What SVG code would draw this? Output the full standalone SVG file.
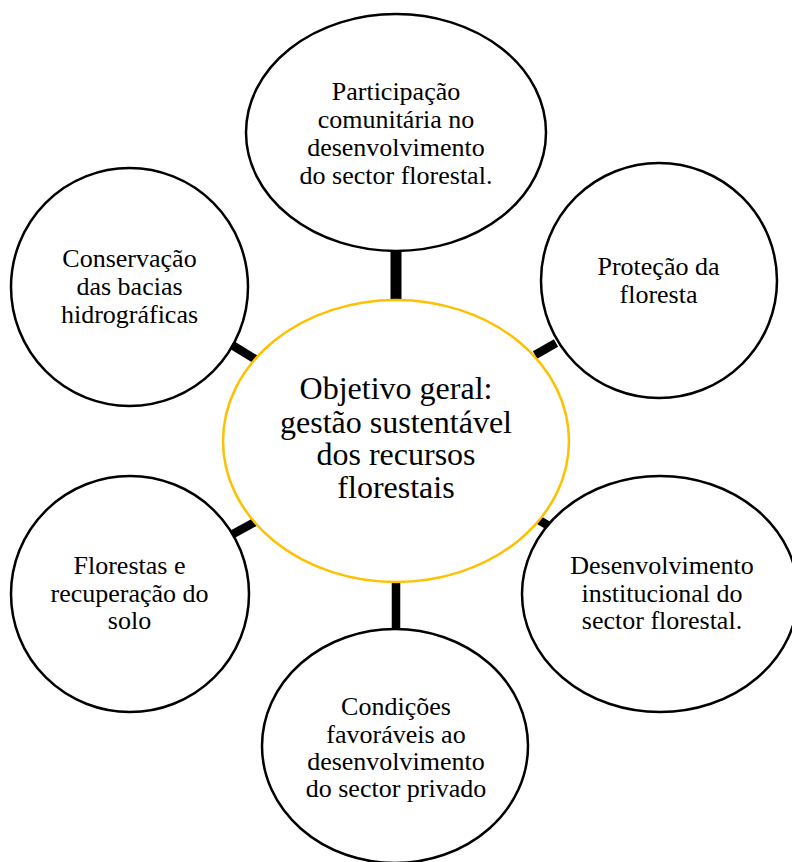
<svg xmlns="http://www.w3.org/2000/svg" width="792" height="862" viewBox="0 0 792 862">
<style>
.n{fill:#fff;stroke:#000;stroke-width:2.5}
.c{fill:#fff;stroke:#FFC000;stroke-width:2.5}
.t{font-family:"Liberation Serif","Times New Roman",serif;font-size:26px;fill:#000;text-anchor:middle}
.tc{font-family:"Liberation Serif","Times New Roman",serif;font-size:32px;fill:#000;text-anchor:middle}
.l{stroke:#000;stroke-width:8.5;fill:none}
</style>
<rect width="792" height="862" fill="#fff"/>
<g id="connectors">
<line class="l" x1="396" y1="250" x2="396" y2="301" style="stroke-width:11"/>
<line class="l" x1="396" y1="581" x2="396" y2="630"/>
<line class="l" x1="232" y1="345" x2="255" y2="359"/>
<line class="l" x1="556" y1="343" x2="535" y2="355"/>
<line class="l" x1="233" y1="534" x2="255" y2="522"/>
<line class="l" x1="537" y1="519" x2="549" y2="526"/>
</g>
<g id="n-top">
<ellipse class="n" cx="396" cy="132.5" rx="150" ry="118.5"/>
<text class="t"><tspan x="396" y="100">Participação</tspan><tspan x="396" y="128">comunitária no</tspan><tspan x="396" y="156">desenvolvimento</tspan><tspan x="396" y="184">do sector florestal.</tspan></text>
</g>
<g id="n-conservacao">
<ellipse class="n" cx="129.5" cy="287" rx="118.5" ry="119"/>
<text class="t"><tspan x="129.5" y="267">Conservação</tspan><tspan x="129.5" y="295">das bacias</tspan><tspan x="129.5" y="323">hidrográficas</tspan></text>
</g>
<g id="n-protecao">
<ellipse class="n" cx="659" cy="280.5" rx="118" ry="117.5"/>
<text class="t"><tspan x="658.5" y="275">Proteção da</tspan><tspan x="658.5" y="303">floresta</tspan></text>
</g>
<g id="n-florestas">
<ellipse class="n" cx="130" cy="594" rx="119" ry="118"/>
<text class="t"><tspan x="129.5" y="574">Florestas e</tspan><tspan x="129.5" y="602">recuperação do</tspan><tspan x="129.5" y="629">solo</tspan></text>
</g>
<g id="n-institucional">
<ellipse class="n" cx="660" cy="594" rx="138" ry="118"/>
<text class="t"><tspan x="662" y="574">Desenvolvimento</tspan><tspan x="662" y="602">institucional do</tspan><tspan x="662" y="629">sector florestal.</tspan></text>
</g>
<g id="n-privado">
<ellipse class="n" cx="395" cy="746" rx="133" ry="117"/>
<text class="t"><tspan x="396" y="715">Condições</tspan><tspan x="396" y="743">favoráveis ao</tspan><tspan x="396" y="770">desenvolvimento</tspan><tspan x="396" y="797">do sector privado</tspan></text>
</g>
<g id="n-center">
<ellipse class="c" cx="396" cy="441" rx="173" ry="141"/>
<text class="tc"><tspan x="396" y="399">Objetivo geral:</tspan><tspan x="396" y="433">gestão sustentável</tspan><tspan x="396" y="465">dos recursos</tspan><tspan x="396" y="498">florestais</tspan></text>
</g>
</svg>
